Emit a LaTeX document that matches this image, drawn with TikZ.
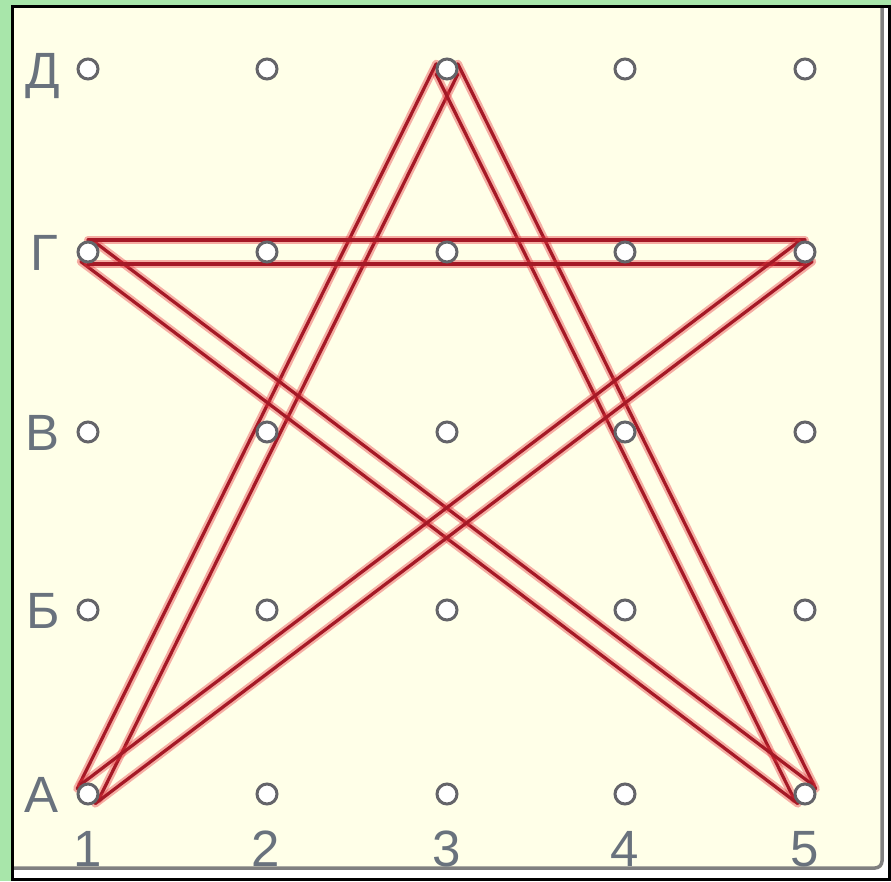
\documentclass[tikz,border=0pt]{standalone}
\usepackage{fontspec}
\setmainfont{Liberation Sans}
\usetikzlibrary{calc}
\definecolor{greenbg}{RGB}{168,230,170}
\definecolor{creambg}{RGB}{255,255,232}
\definecolor{bandred}{RGB}{165,25,38}
\definecolor{glowred}{RGB}{232,50,60}
\definecolor{peggray}{RGB}{100,100,105}
\definecolor{labelgray}{RGB}{105,114,125}
\tikzset{
  peg/.style={circle, draw=peggray, line width=3pt, fill=white, minimum size=20pt, inner sep=0pt},
  bandglow/.style={draw=glowred, opacity=0.4, line width=8pt, line cap=round},
  bandline/.style={draw=bandred, line width=3.2pt, line cap=round},
  lbl/.style={text=labelgray, font=\fontsize{51}{60}\selectfont, anchor=base, inner sep=0pt},
}
\newcommand\rubberband[2]{%
  \draw[bandglow] ($(#1.center)!12pt!90:(#2.center)$) -- ($(#2.center)!12pt!-90:(#1.center)$);
  \draw[bandglow] ($(#1.center)!12pt!-90:(#2.center)$) -- ($(#2.center)!12pt!90:(#1.center)$);
  \draw[bandline] ($(#1.center)!12pt!90:(#2.center)$) -- ($(#2.center)!12pt!-90:(#1.center)$);
  \draw[bandline] ($(#1.center)!12pt!-90:(#2.center)$) -- ($(#2.center)!12pt!90:(#1.center)$);
}
\begin{document}
\begin{tikzpicture}[x=1pt,y=-1pt]
  \useasboundingbox (0,0) rectangle (891,881);
  \fill[greenbg] (0,0) rectangle (891,881);
  \fill[creambg] (12,6) rectangle (889,879);
  \fill[white] (882,6) rectangle (889,879);
  \fill[white] (12,868) rectangle (889,879);
  \draw[gray, line width=3.5pt, rounded corners=7pt] (882,8) -- (882,868) -- (14,868);
  \draw[black, line width=3pt] (12,6) rectangle (889,879);

  % peg coordinates (column, row): rows 1=A ... 5=D
  \foreach \c/\x in {1/88,2/267,3/447,4/625,5/805}{
    \foreach \r/\y in {1/794,2/610,3/432,4/252,5/69}{
      \coordinate (q\c\r) at (\x,\y);
    }
  }
  \path (q11) node[inner sep=0pt, minimum size=1pt] (s11) {};
  \path (q35) node[inner sep=0pt, minimum size=1pt] (s35) {};
  \path (q51) node[inner sep=0pt, minimum size=1pt] (s51) {};
  \path (q14) node[inner sep=0pt, minimum size=1pt] (s14) {};
  \path (q54) node[inner sep=0pt, minimum size=1pt] (s54) {};

  % star rubber bands
  \rubberband{s11}{s35}
  \rubberband{s35}{s51}
  \rubberband{s51}{s14}
  \rubberband{s14}{s54}
  \rubberband{s54}{s11}

  % pegs
  \foreach \c in {1,...,5}{
    \foreach \r in {1,...,5}{
      \node[peg] (p\c\r) at (q\c\r) {};
    }
  }

  % row labels
  \node[lbl] (lD) at (43,88) {Д};
  \node[lbl] (lG) at (44,270) {Г};
  \node[lbl] (lV) at (43,450) {В};
  \node[lbl] (lB) at (43,628) {Б};
  \node[lbl] (lA) at (42,812) {А};
  % column labels
  \node[lbl] (n1) at (88,866) {1};
  \node[lbl] (n2) at (266,866) {2};
  \node[lbl] (n3) at (447,866) {3};
  \node[lbl] (n4) at (625,866) {4};
  \node[lbl] (n5) at (805,866) {5};
\end{tikzpicture}
\end{document}
